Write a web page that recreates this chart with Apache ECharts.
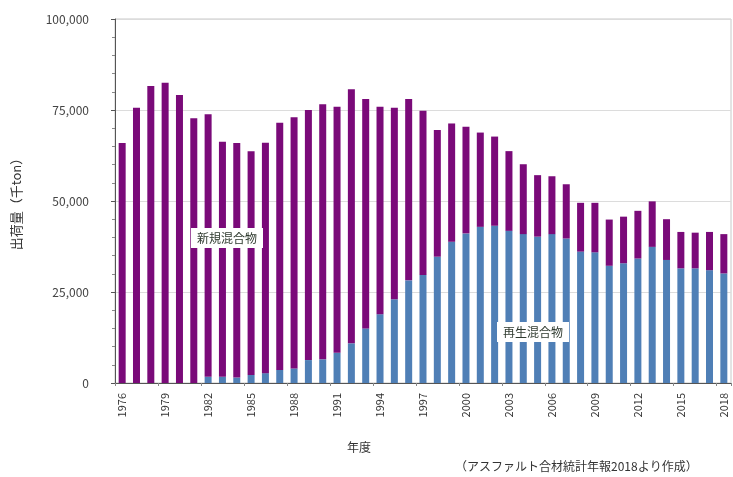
<!DOCTYPE html>
<html>
<head>
<meta charset="utf-8">
<script src="https://cdn.jsdelivr.net/npm/echarts@6/dist/echarts.min.js"></script>
<style>
  html, body { margin: 0; padding: 0; background: #fff; }
  #chart { width: 733px; height: 477px; }
</style>
</head>
<body>
<div id="chart"></div>
<script>
// 年度
const years = [];
for (let y = 1976; y <= 2018; y++) years.push(String(y));

// 再生混合物（千ton）
const recycled = [
  0, 0, 0, 0, 0, 0, 1700, 1700, 1500, 2200,
  2700, 3600, 4000, 6300, 6500, 8300, 10900, 15000, 18900, 23000,
  28200, 29700, 34700, 38800, 41100, 42900, 43200, 41800, 40900, 40200,
  40900, 39700, 36100, 35900, 32200, 32900, 34200, 37400, 33800, 31500,
  31500, 31000, 30100
];

// 合計出荷量（千ton）
const total = [
  65900, 75600, 81600, 82500, 79100, 72700, 73800, 66300, 65900, 63700,
  66000, 71500, 73000, 75000, 76600, 75900, 80700, 78000, 75900, 75600,
  78000, 74800, 69500, 71300, 70400, 68800, 67700, 63700, 60100, 57100,
  56800, 54600, 49500, 49500, 44900, 45700, 47300, 49900, 45000, 41500,
  41300, 41500, 40900
];

// 新規混合物 = 合計 - 再生
const fresh = total.map((t, i) => t - recycled[i]);

const chart = echarts.init(document.getElementById('chart'));

const jp = '"Noto Sans CJK JP", sans-serif';

// 白地のラベル（棒の上に重ねる）
function boxLabel(text, x, y) {
  return {
    type: 'text',
    left: x,
    top: y,
    z: 100,
    zlevel: 1,
    style: {
      text: text,
      fontSize: 12,
      fill: '#2f3a2f',
      fontFamily: jp,
      backgroundColor: '#fff',
      padding: [4, 6],
    },
  };
}

const option = {
  animation: false,
  textStyle: { fontFamily: '"Noto Sans CJK JP", "DejaVu Sans", sans-serif' },
  grid: {
    left: 115,
    right: 2,
    top: 19,
    bottom: 94,
    show: true,
    borderColor: '#c8c8c8',
    borderWidth: 1,
  },
  xAxis: {
    type: 'category',
    data: years,
    name: '年度',
    nameLocation: 'middle',
    nameGap: 58,
    nameTextStyle: { fontSize: 12, color: '#333', padding: [0, 0, 0, -128] },
    axisLine: { lineStyle: { color: '#555' } },
    axisTick: { show: true, length: 3, lineStyle: { color: '#888' } },
    axisLabel: {
      interval: 2,
      rotate: 90,
      fontSize: 11,
      color: '#333',
      margin: 10,
    },
  },
  yAxis: {
    type: 'value',
    min: 0,
    max: 100000,
    interval: 25000,
    name: '出荷量（千ton）',
    nameLocation: 'middle',
    nameRotate: 90,
    nameGap: 92,
    nameTextStyle: { fontSize: 13, color: '#333' },
    axisLine: { show: true, lineStyle: { color: '#555' } },
    axisTick: { show: true, length: 4, lineStyle: { color: '#555' } },
    minorTick: { show: true, splitNumber: 5, length: 3, lineStyle: { color: '#888' } },
    splitLine: { lineStyle: { color: '#dcdcdc', width: 1 } },
    axisLabel: {
      fontSize: 12,
      color: '#444',
      margin: 26,
      formatter: v => v.toLocaleString('en-US'),
    },
  },
  series: [
    {
      name: '再生混合物',
      type: 'bar',
      stack: 'total',
      data: recycled,
      barWidth: 7,
      itemStyle: { color: '#4f7fb6' },
    },
    {
      name: '新規混合物',
      type: 'bar',
      stack: 'total',
      data: fresh,
      barWidth: 7,
      itemStyle: { color: '#7a0a79' },
    },
  ],
  graphic: [
    boxLabel('新規混合物', 191, 228),
    boxLabel('再生混合物', 497, 322),
    {
      type: 'text',
      left: 455,
      top: 460,
      z: 100,
      style: {
        text: '（アスファルト合材統計年報2018より作成）',
        fontSize: 12,
        fill: '#333',
        fontFamily: jp,
      },
    },
  ],
};

chart.setOption(option);
</script>
</body>
</html>
